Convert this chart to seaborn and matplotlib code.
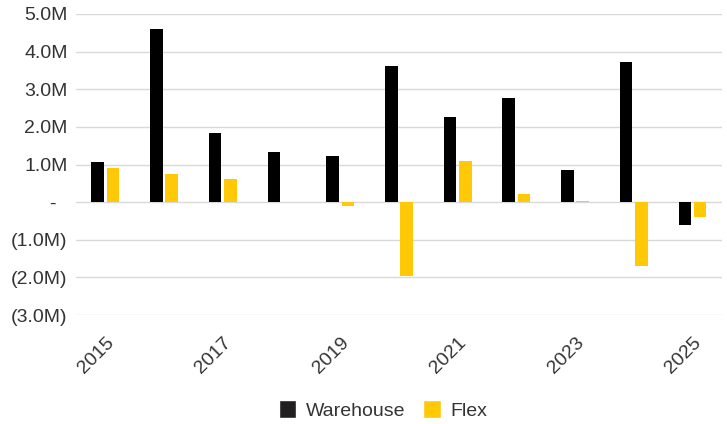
import matplotlib
matplotlib.use("Agg")
import matplotlib.pyplot as plt
import matplotlib.ticker as mticker
from matplotlib.patches import Patch
import seaborn as sns
import pandas as pd

years = [str(y) for y in range(2015, 2026)]
warehouse = [1.06, 4.61, 1.85, 1.32, 1.22, 3.62, 2.26, 2.76, 0.85, 3.72, -0.61]
flex = [0.90, 0.74, 0.61, 0.0, -0.10, -1.95, 1.09, 0.21, 0.03, -1.70, -0.39]
series = ["Warehouse", "Flex"]
colors = {"Warehouse": "#000000", "Flex": "#FFC907"}

df = pd.DataFrame({
    "year": years * 2,
    "value": [v * 1e6 for v in warehouse] + [v * 1e6 for v in flex],
    "series": ["Warehouse"] * len(years) + ["Flex"] * len(years),
})

sns.set_theme(style="white")
plt.rcParams["font.family"] = ["Liberation Sans", "DejaVu Sans"]

fig = plt.figure(figsize=(7.27, 4.24), dpi=100)
ax = fig.add_axes([0.1045, 0.257, 0.8885, 0.71])

sns.barplot(data=df, x="year", y="value", hue="series", hue_order=series,
            palette=colors, saturation=1, width=0.52, gap=0.18, ax=ax,
            legend=False, edgecolor="none", linewidth=0)

ax.set_ylim(-3e6, 5e6)
ax.set_xlim(-0.5, len(years) - 0.5)
ax.yaxis.set_major_locator(mticker.MultipleLocator(1e6))

def fmt(v, pos):
    m = v / 1e6
    if abs(m) < 1e-9:
        return "-  "
    if m < 0:
        return f"({abs(m):.1f}M)"
    return f"{m:.1f}M"

ax.yaxis.set_major_formatter(mticker.FuncFormatter(fmt))
ax.grid(axis="y", color="#d9d9d9", linewidth=1)
ax.set_axisbelow(True)
for s in ax.spines.values():
    s.set_visible(False)
ax.set_xlabel("")
ax.set_ylabel("")
ax.tick_params(axis="both", length=0, colors="#333333", labelsize=14)
ax.tick_params(axis="y", pad=6)

ax.set_xticks(range(0, len(years), 2))
ax.set_xticklabels(years[::2], rotation=45, ha="right", rotation_mode="anchor",
                   fontsize=14, color="#333333")
ax.tick_params(axis="x", pad=14)

handles = [Patch(facecolor="#231f20", label="Warehouse"),
           Patch(facecolor=colors["Flex"], label="Flex")]
fig.legend(handles=handles, loc="center", bbox_to_anchor=(0.527, 0.033), ncol=2,
           frameon=False, fontsize=14, handlelength=0.9, handleheight=1.0,
           handletextpad=0.5, columnspacing=0.9, labelcolor="#333333")

fig.savefig("out.png", dpi=100)
